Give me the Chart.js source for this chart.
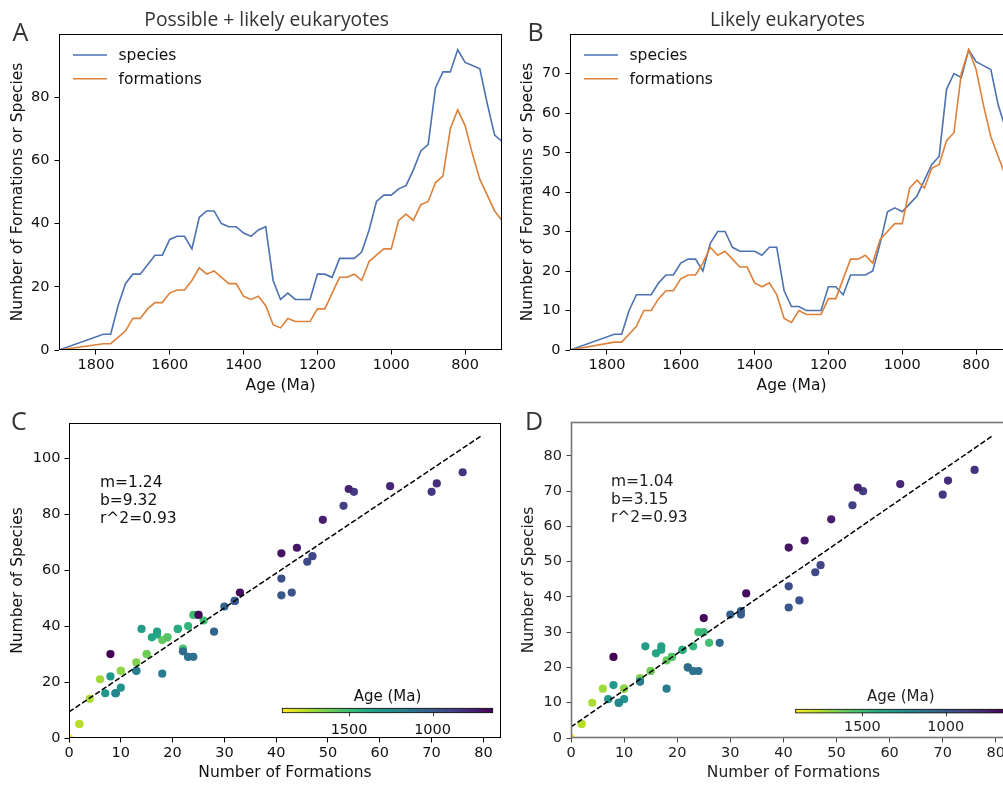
<!DOCTYPE html>
<html>
<head>
<meta charset="utf-8">
<title>Eukaryote formations and species through time</title>
<script src="https://cdn.jsdelivr.net/npm/chart.js@4.4.1/dist/chart.umd.min.js"></script>
<style>
  html, body { margin: 0; padding: 0; background: #fff; overflow: hidden; }
  #page { position: relative; width: 1003px; height: 785px; overflow: hidden; background: #fff; }
  #page canvas { position: absolute; }
</style>
</head>
<body>
<div id="page">
  <canvas id="chartA" width="510" height="400" style="left:0;top:0"></canvas>
  <canvas id="chartB" width="520" height="400" style="left:500px;top:0"></canvas>
  <canvas id="chartC" width="510" height="385" style="left:0;top:400px"></canvas>
  <canvas id="chartD" width="530" height="385" style="left:500px;top:400px"></canvas>
</div>
<script>
/* ── DATA ─────────────────────────────────────── */
// age bins (Ma); the last three are younger than the 700 Ma plot limit
const ages = [1900, 1780, 1760, 1740, 1720, 1700, 1680, 1660, 1640, 1620,
              1600, 1580, 1560, 1540, 1520, 1500, 1480, 1460, 1440, 1420,
              1400, 1380, 1360, 1340, 1320, 1300, 1280, 1260, 1240, 1220,
              1200, 1180, 1160, 1140, 1120, 1100, 1080, 1060, 1040, 1020,
              1000, 980, 960, 940, 920, 900, 880, 860, 840, 820,
              800, 780, 760, 740, 720, 700, 680, 660, 640];

const formations = [0, 2, 2, 4, 6, 10, 10, 13, 15, 15,
                    18, 19, 19, 22, 26, 24, 25, 23, 21, 21,
                    17, 16, 17, 14, 8, 7, 10, 9, 9, 9,
                    13, 13, 18, 23, 23, 24, 22, 28, 30, 32,
                    32, 41, 43, 41, 46, 47, 53, 55, 70, 76,
                    71, 62, 54, 49, 44, 41, 33, 25, 8];

// possible + likely eukaryotes
const speciesAll = [0, 5, 5, 14, 21, 24, 24, 27, 30, 30,
                    35, 36, 36, 32, 42, 44, 44, 40, 39, 39,
                    37, 36, 38, 39, 22, 16, 18, 16, 16, 16,
                    24, 24, 23, 29, 29, 29, 31, 38, 47, 49,
                    49, 51, 52, 57, 63, 65, 83, 88, 88, 95,
                    91, 90, 89, 78, 68, 66, 52, 44, 30];

// likely eukaryotes only
const speciesLikely = [0, 4, 4, 10, 14, 14, 14, 17, 19, 19,
                       22, 23, 23, 20, 27, 30, 30, 26, 25, 25,
                       25, 24, 26, 26, 15, 11, 11, 10, 10, 10,
                       16, 16, 14, 19, 19, 19, 20, 27, 35, 36,
                       35, 37, 39, 43, 47, 49, 66, 70, 69, 76,
                       73, 72, 71, 62, 56, 54, 41, 34, 23];

const ageTicks      = [1800, 1600, 1400, 1200, 1000, 800];
const yTicksA       = [0, 20, 40, 60, 80];
const yTicksB       = [0, 10, 20, 30, 40, 50, 60, 70];
const xTicksScatter = [0, 10, 20, 30, 40, 50, 60, 70, 80];
const yTicksC       = [0, 20, 40, 60, 80, 100];
const yTicksD       = [0, 10, 20, 30, 40, 50, 60, 70, 80];
const colorbarTicks = [1500, 1000];

const fitC = { m: 1.24, b: 9.32, r2: 0.93 };
const fitD = { m: 1.04, b: 3.15, r2: 0.93 };
const fitRange = [0, 79.5];

/* ── STYLE ────────────────────────────────────── */
const BLUE   = '#4c72b0';
const ORANGE = '#dd8039';
const TICK_FONT  = { family: 'DejaVu Sans', size: 14.5 };
const LABEL_FONT = { family: 'DejaVu Sans', size: 15.5 };
const VIRIDIS = ['#440154', '#482475', '#414487', '#355f8d', '#2a788e', '#21918c',
                 '#22a884', '#44bf70', '#7ad151', '#bddf26', '#fde725'];

const ageMin = Math.min(...ages);
const ageMax = Math.max(...ages);

function hexRgb(h) {
  return [1, 3, 5].map(i => parseInt(h.slice(i, i + 2), 16));
}

function viridis(t) {
  t = Math.min(1, Math.max(0, t));
  const p = t * (VIRIDIS.length - 1);
  const i = Math.min(Math.floor(p), VIRIDIS.length - 2);
  const f = p - i;
  const a = hexRgb(VIRIDIS[i]), b = hexRgb(VIRIDIS[i + 1]);
  const c = a.map((v, k) => Math.round(v + (b[k] - v) * f));
  return `rgb(${c[0]},${c[1]},${c[2]})`;
}

Chart.defaults.font.family = 'DejaVu Sans';
Chart.defaults.color = '#111';

/* ── PLUGINS ──────────────────────────────────── */
const framePlugin = {
  id: 'frame',
  afterDraw(chart, args, o) {
    const { ctx, chartArea: a } = chart;
    ctx.save();
    ctx.strokeStyle = o.color || '#000';
    ctx.lineWidth = o.width || 1;
    ctx.strokeRect(a.left + 0.5, a.top + 0.5, a.right - a.left - 1, a.bottom - a.top - 1);
    ctx.restore();
  }
};

const panelText = {
  id: 'panelText',
  afterDraw(chart, args, o) {
    const ctx = chart.ctx;
    ctx.save();
    ctx.fillStyle = '#333';
    ctx.textBaseline = 'alphabetic';
    ctx.textAlign = 'left';
    ctx.font = '25px "Open Sans"';
    ctx.fillText(o.letter, o.letterX, o.letterY);
    if (o.title) {
      ctx.textAlign = 'center';
      ctx.font = '19.3px "Open Sans"';
      ctx.fillText(o.title, o.titleX, o.titleY);
    }
    ctx.restore();
  }
};

const legendBox = {
  id: 'legendBox',
  afterDraw(chart) {
    const { ctx, chartArea: a } = chart;
    ctx.save();
    ctx.font = '15.5px "DejaVu Sans"';
    ctx.textBaseline = 'middle';
    ctx.textAlign = 'left';
    chart.data.datasets.forEach((ds, i) => {
      const y = a.top + 21 + i * 23.7;
      ctx.strokeStyle = ds.borderColor;
      ctx.lineWidth = ds.borderWidth;
      ctx.beginPath();
      ctx.moveTo(a.left + 14, y);
      ctx.lineTo(a.left + 48, y);
      ctx.stroke();
      ctx.fillStyle = '#111';
      ctx.fillText(ds.label, a.left + 59.5, y + 1);
    });
    ctx.restore();
  }
};

const fitText = {
  id: 'fitText',
  afterDraw(chart, args, o) {
    const { ctx, chartArea: a } = chart;
    const lines = ['m=' + o.fit.m.toFixed(2), 'b=' + o.fit.b.toFixed(2), 'r^2=' + o.fit.r2.toFixed(2)];
    ctx.save();
    ctx.font = '15.5px "DejaVu Sans"';
    ctx.fillStyle = o.color || '#111';
    ctx.textBaseline = 'middle';
    ctx.textAlign = 'left';
    lines.forEach((s, i) => ctx.fillText(s, a.left + o.dx, a.top + o.dy + i * 17.8));
    ctx.restore();
  }
};

const colorbar = {
  id: 'colorbar',
  afterDraw(chart, args, o) {
    const { ctx, chartArea: a } = chart;
    const x0 = a.left + o.dx, y0 = a.top + o.dy;
    const grad = ctx.createLinearGradient(x0, 0, x0 + o.w, 0);
    VIRIDIS.forEach((c, i) => grad.addColorStop(1 - i / (VIRIDIS.length - 1), c));
    ctx.save();
    ctx.fillStyle = grad;
    ctx.fillRect(x0, y0, o.w, o.h);
    ctx.strokeStyle = '#000';
    ctx.lineWidth = 0.8;
    ctx.strokeRect(x0, y0, o.w, o.h);
    const px = v => x0 + (ageMax - v) / (ageMax - ageMin) * o.w;
    ctx.font = '14.5px "DejaVu Sans"';
    ctx.fillStyle = o.color || '#111';
    ctx.textAlign = 'center';
    ctx.textBaseline = 'middle';
    o.ticks.forEach(v => {
      const x = Math.round(px(v)) + 0.5;
      ctx.beginPath();
      ctx.moveTo(x, y0 + o.h);
      ctx.lineTo(x, y0 + o.h + 3.5);
      ctx.stroke();
      ctx.fillText(String(v), px(v), y0 + o.h + o.tickDy);
    });
    ctx.font = '15px "DejaVu Sans"';
    ctx.fillText('Age (Ma)', x0 + o.w / 2, y0 - o.labelDy);
    ctx.restore();
  }
};

/* ── SCALES ───────────────────────────────────── */
function makeScale(o) {
  const isX = o.axis === 'x';
  return {
    type: 'linear',
    position: isX ? 'bottom' : 'left',
    min: o.min,
    max: o.max,
    reverse: !!o.reverse,
    afterBuildTicks: s => { s.ticks = o.ticks.map(v => ({ value: v })); },
    afterFit: s => { if (isX) s.height = o.size; else s.width = o.size; },
    grid: { drawOnChartArea: false, drawTicks: true, tickLength: 4.5, color: o.tickColor || '#000', lineWidth: 1 },
    border: { display: false },
    ticks: {
      font: TICK_FONT, color: o.textColor || '#111',
      padding: isX ? 2 : o.tickPad, maxRotation: 0, autoSkip: false,
      callback: v => String(v)
    },
    title: {
      display: true, text: o.title, font: LABEL_FONT, color: o.textColor || '#111',
      padding: isX ? { top: 0, bottom: o.titlePad } : { top: o.titlePad, bottom: 0 }
    }
  };
}

function lineData(species) {
  return [
    { label: 'species', data: ages.map((a, i) => ({ x: a, y: species[i] })),
      borderColor: BLUE, borderWidth: 1.6, pointRadius: 0, tension: 0, clip: 0, order: 2 },
    { label: 'formations', data: ages.map((a, i) => ({ x: a, y: formations[i] })),
      borderColor: ORANGE, borderWidth: 1.6, pointRadius: 0, tension: 0, clip: 0, order: 1 }
  ];
}

function scatterData(species, fit) {
  return [
    { type: 'line', data: fitRange.map(x => ({ x, y: fit.m * x + fit.b })),
      borderColor: '#000', borderWidth: 1.5, borderDash: [5.5, 2.4], pointRadius: 0,
      showLine: true, clip: 0 },
    { type: 'scatter', data: formations.map((f, i) => ({ x: f, y: species[i] })),
      pointBackgroundColor: ages.map(a => viridis((a - ageMin) / (ageMax - ageMin))),
      pointBorderWidth: 0, pointRadius: 4.1, pointHoverRadius: 4.1, clip: 0 }
  ];
}

function baseOptions(box, scales, pluginOpts) {
  return {
    responsive: false,
    animation: false,
    events: [],
    layout: { padding: { left: 0, top: box.t, right: box.w - box.r, bottom: 0 } },
    plugins: Object.assign({ legend: { display: false }, tooltip: { enabled: false } }, pluginOpts),
    scales
  };
}

/* ── PANEL A ──────────────────────────────────── */
const boxA = { w: 510, h: 400, l: 59, t: 34, r: 502, b: 350 };
new Chart(document.getElementById('chartA'), {
  type: 'line',
  data: { datasets: lineData(speciesAll) },
  options: baseOptions(boxA, {
    x: makeScale({ axis: 'x', min: 700, max: 1900, reverse: true, ticks: ageTicks,
                   size: boxA.h - boxA.b, title: 'Age (Ma)', titlePad: 4.7 }),
    y: makeScale({ axis: 'y', min: 0, max: 100, ticks: yTicksA, size: boxA.l,
                   title: 'Number of Formations or Species', titlePad: 9, tickPad: 5 })
  }, {
    frame: { color: '#000', width: 1 },
    panelText: { letter: 'A', letterX: 12.5, letterY: 41, title: 'Possible + likely eukaryotes', titleX: 266.7, titleY: 26 }
  }),
  plugins: [framePlugin, legendBox, panelText]
});

/* ── PANEL B ──────────────────────────────────── */
const boxB = { w: 520, h: 400, l: 70, t: 34, r: 513, b: 350 };
new Chart(document.getElementById('chartB'), {
  type: 'line',
  data: { datasets: lineData(speciesLikely) },
  options: baseOptions(boxB, {
    x: makeScale({ axis: 'x', min: 700, max: 1900, reverse: true, ticks: ageTicks,
                   size: boxB.h - boxB.b, title: 'Age (Ma)', titlePad: 4.7 }),
    y: makeScale({ axis: 'y', min: 0, max: 80, ticks: yTicksB, size: boxB.l,
                   title: 'Number of Formations or Species', titlePad: 19, tickPad: 5 })
  }, {
    frame: { color: '#000', width: 1 },
    panelText: { letter: 'B', letterX: 27.5, letterY: 41, title: 'Likely eukaryotes', titleX: 287.5, titleY: 26 }
  }),
  plugins: [framePlugin, legendBox, panelText]
});

/* ── PANEL C ──────────────────────────────────── */
const boxC = { w: 510, h: 385, l: 69, t: 23, r: 501, b: 338 };
new Chart(document.getElementById('chartC'), {
  type: 'scatter',
  data: { datasets: scatterData(speciesAll, fitC) },
  options: baseOptions(boxC, {
    x: makeScale({ axis: 'x', min: 0, max: 83.4, ticks: xTicksScatter,
                   size: boxC.h - boxC.b, title: 'Number of Formations', titlePad: 3 }),
    y: makeScale({ axis: 'y', min: 0, max: 112.6, ticks: yTicksC, size: boxC.l,
                   title: 'Number of Species', titlePad: 9, tickPad: 4 })
  }, {
    frame: { color: '#000', width: 1 },
    fitText: { fit: fitC, dx: 31, dy: 60 },
    colorbar: { dx: 213.3, dy: 285.3, w: 210.4, h: 4.4, ticks: colorbarTicks, tickDy: 17.3, labelDy: 11.6 },
    panelText: { letter: 'C', letterX: 11, letterY: 30 }
  }),
  plugins: [framePlugin, fitText, colorbar, panelText]
});

/* ── PANEL D ──────────────────────────────────── */
const boxD = { w: 530, h: 385, l: 71, t: 22, r: 516, b: 338 };
new Chart(document.getElementById('chartD'), {
  type: 'scatter',
  data: { datasets: scatterData(speciesLikely, fitD) },
  options: baseOptions(boxD, {
    x: makeScale({ axis: 'x', min: 0, max: 83.8, ticks: xTicksScatter, tickColor: '#444', textColor: '#222',
                   size: boxD.h - boxD.b, title: 'Number of Formations', titlePad: 3 }),
    y: makeScale({ axis: 'y', min: 0, max: 89.6, ticks: yTicksD, size: boxD.l, tickColor: '#444', textColor: '#222',
                   title: 'Number of Species', titlePad: 20, tickPad: 4.5 })
  }, {
    frame: { color: '#767676', width: 1.6 },
    fitText: { fit: fitD, dx: 40, dy: 60, color: '#222' },
    colorbar: { dx: 224.7, dy: 287.3, w: 210, h: 3.6, ticks: colorbarTicks, tickDy: 14.5, labelDy: 12.6, color: '#222' },
    panelText: { letter: 'D', letterX: 25, letterY: 30 }
  }),
  plugins: [framePlugin, fitText, colorbar, panelText]
});
</script>
</body>
</html>
